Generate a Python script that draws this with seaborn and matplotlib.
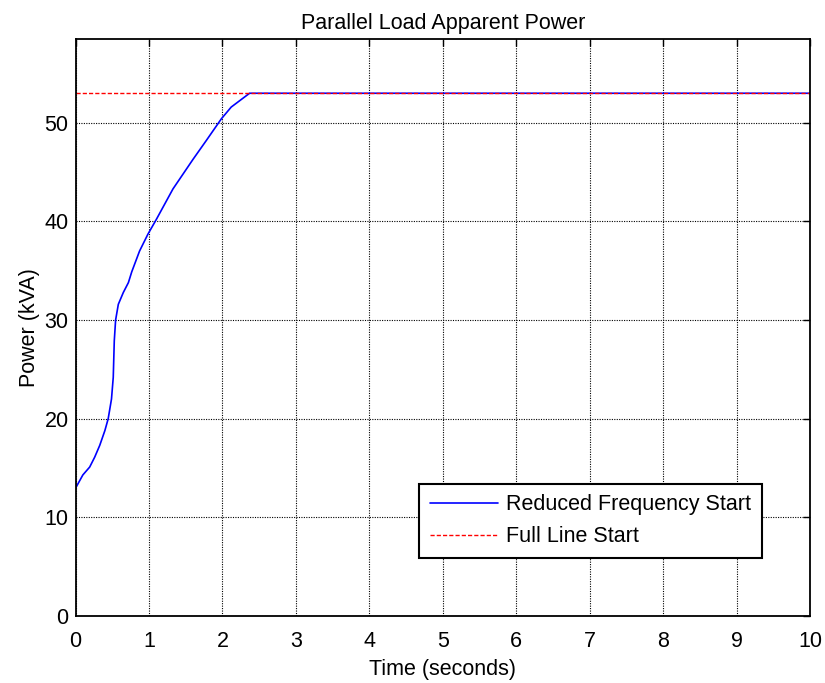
import matplotlib
matplotlib.use("Agg")
import matplotlib.pyplot as plt
import seaborn as sns
import pandas as pd

t_reduced = [0.0, 0.10, 0.193, 0.261, 0.33, 0.40, 0.445, 0.49, 0.514, 0.528, 0.546,
             0.583, 0.651, 0.72, 0.766, 0.872, 0.985, 1.1, 1.327, 1.6, 1.78, 1.985,
             2.12, 2.37, 10.0]
p_reduced = [12.95, 14.3, 15.1, 16.1, 17.3, 18.8, 20.0, 22.0, 24.2, 27.9, 30.0,
             31.6, 32.8, 33.8, 34.9, 37.0, 38.7, 40.2, 43.3, 46.3, 48.2, 50.4,
             51.6, 53.0, 53.0]
t_full = [0.0, 10.0]
p_full = [53.0, 53.0]
x_ticks = [0, 1, 2, 3, 4, 5, 6, 7, 8, 9, 10]
y_ticks = [0, 10, 20, 30, 40, 50]

sns.set_style("white")
plt.rcParams['font.family'] = ['Liberation Sans', 'DejaVu Sans']
plt.rcParams['text.color'] = 'black'
plt.rcParams['axes.labelcolor'] = 'black'
plt.rcParams['xtick.color'] = 'black'
plt.rcParams['ytick.color'] = 'black'

W, H = 825, 683
fig = plt.figure(figsize=(W / 100, H / 100), dpi=100)
left, right, top, bottom = 75.5, 810, 39, 616
ax = fig.add_axes([left / W, 1 - bottom / H, (right - left) / W, (bottom - top) / H])

df_r = pd.DataFrame({"t": t_reduced, "p": p_reduced})
df_f = pd.DataFrame({"t": t_full, "p": p_full})
sns.lineplot(data=df_r, x="t", y="p", ax=ax, color="#0000ff", linewidth=1.2,
             label="Reduced Frequency Start", sort=False)
sns.lineplot(data=df_f, x="t", y="p", ax=ax, color="#ff0000", linewidth=1.0,
             linestyle=(0, (3, 1.5)), label="Full Line Start")

ax.set_xlim(0, 10)
ax.set_ylim(0, 58.5)
ax.set_xticks(x_ticks)
ax.set_yticks(y_ticks)
ax.grid(True, color="black", linestyle=(0, (1, 1.2)), linewidth=0.8)
ax.set_axisbelow(True)
for s in ax.spines.values():
    s.set_visible(True)
    s.set_color("black")
    s.set_linewidth(1.3)
ax.tick_params(direction="in", length=5, width=1, top=True, right=True,
               labelsize=15.5, colors="black")
ax.tick_params(axis="x", pad=10.5)
ax.tick_params(axis="y", pad=5)
ax.set_xlabel("Time (seconds)", fontsize=15.5, labelpad=5, color="black")
ax.set_ylabel("Power (kVA)", fontsize=15.5, labelpad=3.5, color="black")
ax.set_title("Parallel Load Apparent Power", fontsize=15.5, pad=7, color="black")

leg = ax.legend(loc="lower right", bbox_to_anchor=(0.935, 0.1005), fontsize=15.5,
                frameon=True, fancybox=False, edgecolor="black", framealpha=1,
                handlelength=3.15, borderpad=0.5, labelspacing=0.5,
                handletextpad=0.4, borderaxespad=0, labelcolor="black")
leg.get_frame().set_linewidth(1.5)

fig.savefig("out.png", dpi=100)
